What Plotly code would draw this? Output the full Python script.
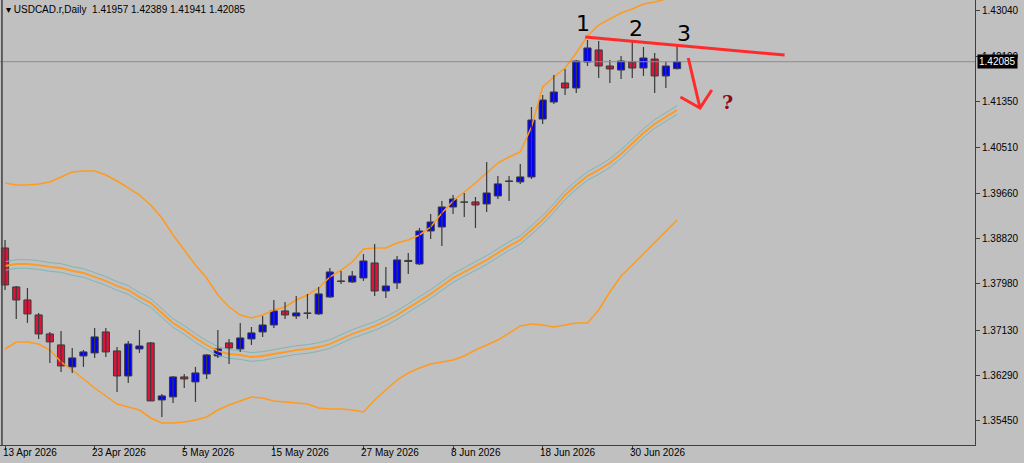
import plotly.graph_objects as go

# USDCAD.r daily candles, 13 Apr 2026 .. 6 Jul 2026 (weekdays)
opens = [1.38645, 1.37925, 1.37685, 1.37408, 1.37057, 1.36854, 1.36448, 1.36651, 1.36706, 1.37094,
         1.36743, 1.36281, 1.36780, 1.36891, 1.35838, 1.35894, 1.36263, 1.36171, 1.36318, 1.36651,
         1.36891, 1.36780, 1.36965, 1.37094, 1.37223, 1.37482, 1.37389, 1.37436, 1.37427, 1.37740,
         1.38036, 1.38017, 1.38091, 1.38368, 1.37851, 1.37999, 1.38415, 1.38350, 1.38959, 1.39033,
         1.39402, 1.39495, 1.39495, 1.39458, 1.39606, 1.39873, 1.39865, 1.39957, 1.41027, 1.41341,
         1.41692, 1.41600, 1.42080, 1.42302, 1.42006, 1.41932, 1.42080, 1.41969, 1.42135, 1.41822,
         1.41957]
highs = [1.38793, 1.37943, 1.37906, 1.37445, 1.37094, 1.37112, 1.36798, 1.36762, 1.37168, 1.37168,
         1.36817, 1.36928, 1.37131, 1.36910, 1.35949, 1.36281, 1.36318, 1.36448, 1.36688, 1.37131,
         1.36965, 1.37260, 1.37186, 1.37389, 1.37685, 1.37648, 1.37759, 1.37796, 1.37925, 1.38276,
         1.38221, 1.38221, 1.38534, 1.38719, 1.38294, 1.38497, 1.38553, 1.39015, 1.39273, 1.39513,
         1.39624, 1.39661, 1.39587, 1.40233, 1.39975, 1.39975, 1.40196, 1.41249, 1.41471, 1.41840,
         1.41951, 1.42117, 1.42486, 1.42468, 1.42117, 1.42191, 1.42449, 1.42357, 1.42246, 1.42080,
         1.42389]
lows = [1.37870, 1.37334, 1.37260, 1.36965, 1.36522, 1.36355, 1.36337, 1.36448, 1.36614, 1.36632,
        1.35986, 1.36152, 1.36706, 1.35820, 1.35524, 1.35783, 1.36060, 1.35801, 1.36226, 1.36614,
        1.36503, 1.36725, 1.36854, 1.37002, 1.37168, 1.37334, 1.37334, 1.37334, 1.37408, 1.37722,
        1.37980, 1.37999, 1.38036, 1.37759, 1.37722, 1.37888, 1.38165, 1.38331, 1.38811, 1.38682,
        1.39273, 1.39218, 1.39015, 1.39310, 1.39550, 1.39513, 1.39827, 1.39920, 1.40935, 1.41304,
        1.41471, 1.41508, 1.42006, 1.41785, 1.41692, 1.41766, 1.41785, 1.41822, 1.41508, 1.41600,
        1.41941]
closes = [1.37962, 1.37685, 1.37427, 1.37057, 1.36910, 1.36466, 1.36614, 1.36725, 1.37002, 1.36725,
          1.36281, 1.36872, 1.36835, 1.35820, 1.35912, 1.36263, 1.36226, 1.36337, 1.36669, 1.36780,
          1.36798, 1.36983, 1.37076, 1.37223, 1.37482, 1.37408, 1.37445, 1.37445, 1.37796, 1.38202,
          1.38026, 1.38128, 1.38405, 1.37851, 1.37943, 1.38424, 1.38396, 1.38959, 1.39125, 1.39402,
          1.39550, 1.39490, 1.39439, 1.39661, 1.39828, 1.39883, 1.39957, 1.41009, 1.41378, 1.41526,
          1.41600, 1.42098, 1.42339, 1.42006, 1.41951, 1.42098, 1.41969, 1.42154, 1.41822, 1.42006,
          1.42085]

# Bollinger bands (orange) and envelopes (teal)
bb_upper = [1.39845, 1.39808, 1.39808, 1.39826, 1.39863, 1.39956, 1.40048, 1.40067, 1.40067, 1.39993,
            1.39882, 1.39753, 1.39623, 1.39439, 1.39199, 1.38885, 1.38607, 1.38330, 1.38090, 1.37776,
            1.37555, 1.37407, 1.37352, 1.37407, 1.37499, 1.37555, 1.37684, 1.37776, 1.37906, 1.38109,
            1.38238, 1.38386, 1.38626, 1.38644, 1.38644, 1.38737, 1.38792, 1.38885, 1.39032, 1.39291,
            1.39513, 1.39679, 1.39845, 1.40030, 1.40214, 1.40325, 1.40418, 1.40879, 1.41618, 1.41803,
            1.41969, 1.42246, 1.42560, 1.42763, 1.42874, 1.42985, 1.43059, 1.43151, 1.43188, 1.43243,
            1.43280]
bb_middle = [1.38312, 1.38349, 1.38349, 1.38330, 1.38294, 1.38275, 1.38220, 1.38183, 1.38109, 1.38035,
             1.37943, 1.37869, 1.37739, 1.37629, 1.37444, 1.37259, 1.37130, 1.36982, 1.36853, 1.36742,
             1.36687, 1.36668, 1.36631, 1.36650, 1.36687, 1.36724, 1.36760, 1.36779, 1.36816, 1.36871,
             1.36964, 1.37056, 1.37130, 1.37204, 1.37296, 1.37407, 1.37536, 1.37666, 1.37795, 1.37943,
             1.38090, 1.38201, 1.38312, 1.38423, 1.38552, 1.38681, 1.38792, 1.38977, 1.39162, 1.39383,
             1.39623, 1.39808, 1.39974, 1.40085, 1.40214, 1.40381, 1.40584, 1.40768, 1.40935, 1.41064,
             1.41193]
bb_lower = [1.36779, 1.36908, 1.36908, 1.36871, 1.36760, 1.36539, 1.36391, 1.36225, 1.36059, 1.35911,
            1.35763, 1.35708, 1.35652, 1.35505, 1.35412, 1.35412, 1.35431, 1.35468, 1.35523, 1.35652,
            1.35745, 1.35819, 1.35892, 1.35874, 1.35819, 1.35800, 1.35782, 1.35763, 1.35689, 1.35671,
            1.35671, 1.35652, 1.35615, 1.35837, 1.36022, 1.36206, 1.36336, 1.36428, 1.36502, 1.36539,
            1.36576, 1.36650, 1.36760, 1.36853, 1.36945, 1.37074, 1.37204, 1.37241, 1.37222, 1.37185,
            1.37222, 1.37259, 1.37259, 1.37499, 1.37832, 1.38127, 1.38330, 1.38534, 1.38737, 1.38940,
            1.39162]
env_upper = [1.38392, 1.38429, 1.38429, 1.38410, 1.38374, 1.38355, 1.38300, 1.38263, 1.38189, 1.38115,
             1.38023, 1.37949, 1.37819, 1.37709, 1.37524, 1.37339, 1.37210, 1.37062, 1.36933, 1.36822,
             1.36767, 1.36748, 1.36711, 1.36730, 1.36767, 1.36804, 1.36840, 1.36859, 1.36896, 1.36951,
             1.37044, 1.37136, 1.37210, 1.37284, 1.37376, 1.37487, 1.37616, 1.37746, 1.37875, 1.38023,
             1.38170, 1.38281, 1.38392, 1.38503, 1.38632, 1.38761, 1.38872, 1.39057, 1.39242, 1.39463,
             1.39703, 1.39888, 1.40054, 1.40165, 1.40294, 1.40461, 1.40664, 1.40848, 1.41015, 1.41144,
             1.41273]
env_lower = [1.38232, 1.38269, 1.38269, 1.38250, 1.38214, 1.38195, 1.38140, 1.38103, 1.38029, 1.37955,
             1.37863, 1.37789, 1.37659, 1.37549, 1.37364, 1.37179, 1.37050, 1.36902, 1.36773, 1.36662,
             1.36607, 1.36588, 1.36551, 1.36570, 1.36607, 1.36644, 1.36680, 1.36699, 1.36736, 1.36791,
             1.36884, 1.36976, 1.37050, 1.37124, 1.37216, 1.37327, 1.37456, 1.37586, 1.37715, 1.37863,
             1.38010, 1.38121, 1.38232, 1.38343, 1.38472, 1.38601, 1.38712, 1.38897, 1.39082, 1.39303,
             1.39543, 1.39728, 1.39894, 1.40005, 1.40134, 1.40301, 1.40504, 1.40688, 1.40855, 1.40984,
             1.41113]

date_ticks = [0, 8, 16, 24, 32, 40, 48, 56]
date_labels = ["13 Apr 2026", "23 Apr 2026", "5 May 2026", "15 May 2026",
               "27 May 2026", "8 Jun 2026", "18 Jun 2026", "30 Jun 2026"]
price_ticks = [1.35450, 1.36290, 1.37130, 1.37980, 1.38820, 1.39660, 1.40510, 1.41350, 1.42190, 1.43040]

idx = list(range(len(opens)))
BG = "#C0C0C0"
ORANGE = "#FF9A1E"
TEAL = "#7FB5B5"
RED = "#FF2B2B"
FONT = "Liberation Sans"

fig = go.Figure()
fig.add_hline(y=closes[-1], line=dict(color="#8C8C8C", width=1))
for ys in (env_upper, env_lower):
    fig.add_trace(go.Scatter(x=idx, y=ys, mode="lines", line=dict(color=TEAL, width=1), hoverinfo="skip"))
for ys, w in ((bb_upper, 1.5), (bb_middle, 1.8), (bb_lower, 1.5)):
    fig.add_trace(go.Scatter(x=idx, y=ys, mode="lines", line=dict(color=ORANGE, width=w), hoverinfo="skip"))

# wicks
wx, wy = [], []
for i, h, l in zip(idx, highs, lows):
    wx += [i, i, None]
    wy += [l, h, None]
fig.add_trace(go.Scatter(x=wx, y=wy, mode="lines", line=dict(color="#3A3A3A", width=1.2), hoverinfo="skip"))
# bodies
body_base = [min(o, c) for o, c in zip(opens, closes)]
body_h = [max(abs(c - o), 0.00001) for o, c in zip(opens, closes)]
body_col = ["#0000FF" if c >= o else "#DC143C" for o, c in zip(opens, closes)]
fig.add_trace(go.Bar(x=idx, y=body_h, base=body_base, width=0.64,
                     marker=dict(color=body_col, line=dict(color="#3A3A3A", width=1))))

# hand-drawn trend line and arrow
fig.add_shape(type="line", x0=51.8, y0=1.42542, x1=69.6, y1=1.42209, line=dict(color=RED, width=3))
fig.add_shape(type="line", x0=61.0, y0=1.42154, x1=62.05, y1=1.41230, line=dict(color=RED, width=3))
fig.add_shape(type="path", path="M 60.3 1.41434 L 62.05 1.41230 L 63.1 1.41563",
              line=dict(color=RED, width=3))
# left border line
fig.add_shape(type="line", xref="paper", yref="paper", x0=0.002, x1=0.002, y0=0, y1=1,
              line=dict(color="#404040", width=1.5))

for txt, xi, yv in (("1", 51.6, 1.42790), ("2", 56.3, 1.42700), ("3", 60.6, 1.42610)):
    fig.add_annotation(x=xi, y=yv, text=txt, showarrow=False,
                       font=dict(family="DejaVu Sans", size=22, color="black"))
fig.add_annotation(x=64.5, y=1.41335, text="<b>?</b>", showarrow=False,
                   font=dict(family="DejaVu Serif", size=19, color="#8B0A1A"))

fig.add_annotation(xref="paper", yref="paper", x=0.004, y=0.995, xanchor="left", yanchor="top",
                   text="▾ USDCAD.r,Daily  1.41957 1.42389 1.41941 1.42085", showarrow=False,
                   font=dict(family=FONT, size=10, color="black"))
fig.add_annotation(xref="paper", x=1.0, xanchor="left", y=closes[-1], text=f"{closes[-1]:.5f}",
                   showarrow=False, bgcolor="black", font=dict(family=FONT, size=10, color="white"),
                   borderpad=1, xshift=2)
for t, lab in zip(date_ticks, date_labels):
    fig.add_annotation(x=t - 0.4, yref="paper", y=0, yanchor="top", xanchor="left", text=lab,
                       showarrow=False, yshift=0, font=dict(family=FONT, size=10, color="black"))

fig.update_layout(
    width=1024, height=463,
    margin=dict(l=0, r=49, t=0, b=18),
    paper_bgcolor=BG, plot_bgcolor=BG,
    showlegend=False,
    xaxis=dict(range=[-0.45, 86.6], showgrid=False, zeroline=False,
               tickvals=date_ticks, showticklabels=False, ticks="outside", ticklen=4, automargin=False,
               tickcolor="#404040", showline=True, linecolor="#404040", linewidth=1),
    yaxis=dict(range=[1.35006, 1.43225], side="right", showgrid=False, zeroline=False, automargin=False,
               tickvals=price_ticks, tickformat=".5f", ticks="outside", ticklen=4,
               tickcolor="#404040", showline=True, linecolor="#404040", linewidth=1,
               tickfont=dict(family=FONT, size=10, color="black")),
)
fig.write_html("out.html", config={"displayModeBar": False},
               post_script="document.body.style.margin='0';")
